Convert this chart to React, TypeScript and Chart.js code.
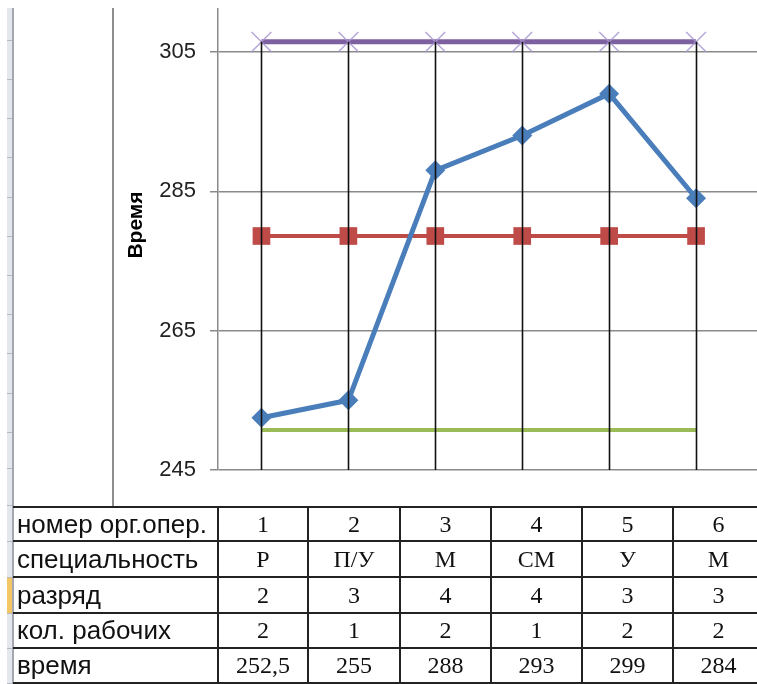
import React, { useEffect, useRef } from "react";
import { Chart, registerables } from "chart.js";

Chart.register(...registerables);

// ---- data ----
const operationNumbers = ["1", "2", "3", "4", "5", "6"];
const specialties = ["Р", "П/У", "М", "СМ", "У", "М"];
const grades = ["2", "3", "4", "4", "3", "3"];
const workerCounts = ["2", "1", "2", "1", "2", "2"];
const timeLabels = ["252,5", "255", "288", "293", "299", "284"];
const timeValues = [252.5, 255, 288, 293, 299, 284];
const meanValues = [278.58, 278.58, 278.58, 278.58, 278.58, 278.58];
const upperValues = [306.44, 306.44, 306.44, 306.44, 306.44, 306.44];
const lowerValues = [250.73, 250.73, 250.73, 250.73, 250.73, 250.73];
const yTickValues = [245, 265, 285, 305];
const yAxisTitle = "Время";
const rowLabels = ["номер орг.опер.", "специальность", "разряд", "кол. рабочих", "время"];
const tableRows = [operationNumbers, specialties, grades, workerCounts, timeLabels];

const toPoints = (arr: number[]) => arr.map((v, i) => ({ x: i, y: v }));

const dropLinesPlugin = {
  id: "dropLines",
  afterDatasetsDraw(chart: any) {
    const { ctx, chartArea } = chart;
    const n = timeValues.length;
    ctx.save();
    ctx.strokeStyle = "#111";
    ctx.lineWidth = 1.6;
    for (let i = 0; i < n; i++) {
      let top = Infinity;
      let x = 0;
      chart.data.datasets.forEach((_: any, d: number) => {
        const el = chart.getDatasetMeta(d).data[i];
        if (el && el.y < top) {
          top = el.y;
          x = el.x;
        }
      });
      ctx.beginPath();
      ctx.moveTo(Math.round(x) + 0.5, top);
      ctx.lineTo(Math.round(x) + 0.5, chartArea.bottom);
      ctx.stroke();
    }
    ctx.restore();
  },
};

const axisTitlePlugin = {
  id: "axisTitle",
  afterDraw(chart: any) {
    const { ctx } = chart;
    ctx.save();
    ctx.translate(22, 217);
    ctx.rotate(-Math.PI / 2);
    ctx.font = "bold 21px 'Liberation Sans', Arial, sans-serif";
    ctx.fillStyle = "#000";
    ctx.textAlign = "center";
    ctx.textBaseline = "middle";
    ctx.fillText(yAxisTitle, 0, 0);
    ctx.restore();
  },
};

function ChartCanvas() {
  const ref = useRef<HTMLCanvasElement | null>(null);
  useEffect(() => {
    if (!ref.current) return;
    const chart = new Chart(ref.current, {
      type: "line",
      data: {
        datasets: [
          {
            label: "время",
            data: toPoints(timeValues),
            borderColor: "#4A7EBB",
            backgroundColor: "#4A7EBB",
            borderWidth: 5,
            pointStyle: "rectRot",
            pointRadius: 10,
            pointBorderWidth: 0,
            pointBackgroundColor: "#4A7EBB",
            tension: 0,
          },
          {
            label: "среднее",
            data: toPoints(meanValues),
            borderColor: "#BE4B48",
            backgroundColor: "#BE4B48",
            borderWidth: 4,
            pointStyle: "rect",
            pointRadius: 12.5,
            pointBorderWidth: 0,
            pointBackgroundColor: "#BE4B48",
          },
          {
            label: "нижняя граница",
            data: toPoints(lowerValues),
            borderColor: "#9BBB59",
            backgroundColor: "#9BBB59",
            borderWidth: 4,
            pointRadius: 0,
          },
          {
            label: "верхняя граница",
            data: toPoints(upperValues),
            borderColor: "#7D60A0",
            backgroundColor: "#7D60A0",
            borderWidth: 5,
            pointStyle: "crossRot",
            pointRadius: 14,
            pointBorderWidth: 1.5,
            pointBorderColor: "rgba(170,150,210,0.85)",
          },
        ],
      },
      options: {
        animation: false,
        responsive: false,
        maintainAspectRatio: false,
        layout: { autoPadding: false, padding: { left: 0, right: 0, top: 0, bottom: 38 } },
        plugins: { legend: { display: false }, tooltip: { enabled: false } },
        scales: {
          x: {
            type: "linear",
            min: -0.5,
            max: 5.701,
            display: false,
          },
          y: {
            min: 245,
            max: 311.3,
            ticks: {
              color: "#222",
              padding: 14,
              font: { family: "'Liberation Sans', Arial, sans-serif", size: 22 },
            },
            grid: { color: "#8a8a8a", lineWidth: 1.5, tickLength: 8 },
            border: { color: "#8a8a8a", width: 1.5 },
            afterBuildTicks: (scale: any) => {
              scale.ticks = yTickValues.map((v) => ({ value: v }));
            },
            afterFit: (scale: any) => {
              scale.width = 104;
              scale.paddingTop = 0;
              scale.paddingBottom = 0;
            },
          },
        },
      } as any,
      plugins: [dropLinesPlugin, axisTitlePlugin],
    });
    return () => chart.destroy();
  }, []);
  return <canvas ref={ref} width={643} height={500} style={{ width: 643, height: 500, display: "block" }} />;
}

export default function App() {
  const colEdges = [13, 218, 308, 400, 491, 582, 673, 764];
  const rowEdges = [507, 541, 577, 613, 648, 683];
  const headerLines = [40, 79, 118, 157, 197, 236, 275, 314, 353, 393, 432, 468, 505, 541, 577, 613, 648, 683];
  return (
    <div
      style={{
        position: "absolute",
        left: 0,
        top: 0,
        width: 757,
        height: 684,
        overflow: "hidden",
        background: "#fff",
      }}
    >
      {/* row header strip */}
      <div style={{ position: "absolute", left: 7, top: 8, width: 6, height: 676, background: "#E4E8EE" }} />
      <div style={{ position: "absolute", left: 7, top: 577, width: 6, height: 36, background: "#F4C565" }} />
      {headerLines.map((y, i) => (
        <div key={"h" + i} style={{ position: "absolute", left: 7, top: y, width: 6, height: 1, background: "#B4B9C0" }} />
      ))}
      <div style={{ position: "absolute", left: 12, top: 8, width: 2, height: 676, background: "#A4A8AE" }} />

      {/* chart object */}
      <div style={{ position: "absolute", left: 112, top: 8, width: 2, height: 500, background: "#8e8e8e" }} />
      <div style={{ position: "absolute", left: 114, top: 8 }}>
        <ChartCanvas />
      </div>

      {/* table lines */}
      {rowEdges.map((y, i) => (
        <div key={"r" + i} style={{ position: "absolute", left: 13, top: y - 1, width: 760, height: 2, background: "#222" }} />
      ))}
      {colEdges.slice(1).map((x, i) => (
        <div key={"c" + i} style={{ position: "absolute", left: x - 1, top: 507, width: 2, height: 177, background: "#222" }} />
      ))}

      {/* table text */}
      {rowLabels.map((label, r) => (
        <div
          key={"l" + r}
          style={{
            position: "absolute",
            left: 17,
            top: rowEdges[r],
            height: rowEdges[r + 1] - rowEdges[r],
            width: 200,
            display: "flex",
            alignItems: "center",
            fontFamily: "'Liberation Sans', Arial, sans-serif",
            fontSize: 26,
            color: "#111",
            whiteSpace: "nowrap",
          }}
        >
          {label}
        </div>
      ))}
      {tableRows.map((row, r) =>
        row.map((val, c) => (
          <div
            key={"v" + r + "_" + c}
            style={{
              position: "absolute",
              left: colEdges[c + 1],
              top: rowEdges[r],
              width: colEdges[c + 2] - colEdges[c + 1],
              height: rowEdges[r + 1] - rowEdges[r],
              display: "flex",
              alignItems: "center",
              justifyContent: "center",
              fontFamily: "'Liberation Serif', 'Times New Roman', serif",
              fontSize: 24,
              color: "#111",
              whiteSpace: "nowrap",
            }}
          >
            {val}
          </div>
        ))
      )}
    </div>
  );
}
